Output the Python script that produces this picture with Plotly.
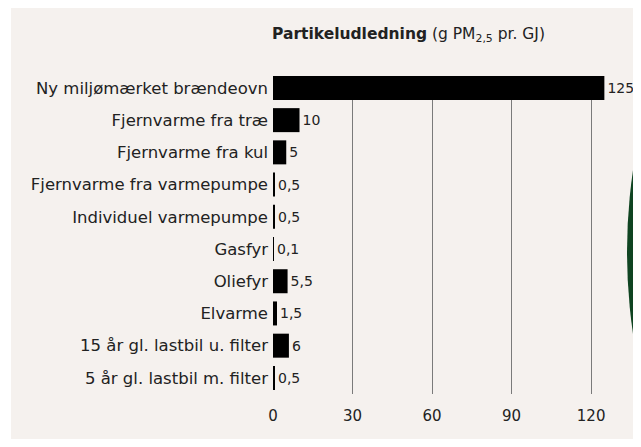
import plotly.graph_objects as go

categories = [
    "Ny miljømærket brændeovn",
    "Fjernvarme fra træ",
    "Fjernvarme fra kul",
    "Fjernvarme fra varmepumpe",
    "Individuel varmepumpe",
    "Gasfyr",
    "Oliefyr",
    "Elvarme",
    "15 år gl. lastbil u. filter",
    "5 år gl. lastbil m. filter",
]
values = [125, 10, 5, 0.5, 0.5, 0.1, 5.5, 1.5, 6, 0.5]
x_ticks = [0, 30, 60, 90, 120]

labels = [f"{v:g}".replace(".", ",") for v in values]

# the page body adds an 8px margin, so the figure is laid out 8px up/left
OFF = 8
W, H = 641 - 2 * OFF, 447 - 2 * OFF
ML, MR, MT = 273 - OFF, 1, 76 - OFF
MB = H - (394 - OFF)
PW = W - ML - MR
PH = H - MT - MB

def px_x(p):
    return (p - OFF - ML) / PW

def px_y(p):
    return (H - MB - (p - OFF)) / PH

FONT = "DejaVu Sans"
TXT = "#222222"

fig = go.Figure(
    go.Bar(
        x=values,
        y=categories,
        orientation="h",
        marker=dict(color="#000000", line=dict(width=0)),
        text=labels,
        textposition="outside",
        textfont=dict(family=FONT, size=14, color=TXT),
        cliponaxis=False,
        width=0.745,
    )
)

fig.update_layout(
    width=W,
    height=H,
    margin=dict(l=ML, r=MR, t=MT, b=MB, pad=0),
    paper_bgcolor="#ffffff",
    plot_bgcolor="rgba(0,0,0,0)",
    showlegend=False,
    font=dict(family=FONT, size=15, color=TXT),
    xaxis=dict(
        range=[0, (633 - 273) / (319.0 / 120)],
        tickvals=x_ticks,
        showgrid=True,
        gridcolor="#7a7a7a",
        gridwidth=1,
        zeroline=False,
        showline=False,
        ticks="",
        ticklabelstandoff=11,
        automargin=False,
        tickfont=dict(family=FONT, size=15, color=TXT),
    ),
    yaxis=dict(
        categoryorder="array",
        categoryarray=categories,
        range=[9.5, -0.37],
        showgrid=False,
        zeroline=False,
        showline=False,
        ticks="",
        ticklabelstandoff=4,
        automargin=False,
        tickfont=dict(family=FONT, size=16.5, color=TXT),
    ),
    shapes=[
        dict(
            type="rect", xref="paper", yref="paper", layer="below",
            x0=px_x(11), x1=px_x(660), y0=px_y(470), y1=px_y(0),
            fillcolor="#f5f1ee", line=dict(width=0),
        ),
        dict(
            type="circle", xref="paper", yref="paper", layer="above",
            x0=px_x(627), x1=px_x(627 + 1120), y0=px_y(252 + 560), y1=px_y(252 - 560),
            fillcolor="#0f4421", line=dict(width=0),
        ),
    ],
    annotations=[
        dict(
            text="<b>Partikeludledning</b> (g PM<sub>2,5</sub> pr. GJ)",
            xref="paper", yref="paper",
            x=px_x(408), y=px_y(35),
            xanchor="center", yanchor="middle",
            showarrow=False,
            font=dict(family=FONT, size=15.5, color=TXT),
        )
    ],
)

fig.write_html("out.html")
